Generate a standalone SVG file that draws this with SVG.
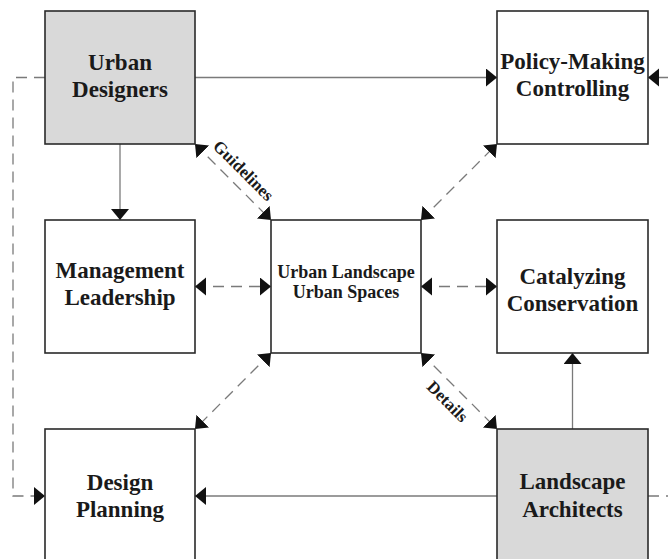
<svg xmlns="http://www.w3.org/2000/svg" width="668" height="559" viewBox="0 0 668 559">
  <defs>
    <marker id="arr" markerUnits="userSpaceOnUse" markerWidth="13" markerHeight="20" refX="11" refY="9" orient="auto-start-reverse" viewBox="0 0 13 20">
      <path d="M0,0 L11,9 L0,18 z" fill="#111"/>
    </marker>
    <style>
      .box { stroke: #2a2a2a; stroke-width: 1.6; fill: #ffffff; }
      .gray { fill: #d9d9d9; }
      .lbl { font-family: "Liberation Serif", "Times New Roman", serif; font-weight: bold; font-size: 23px; fill: #1a1a1a; text-anchor: middle; }
      .mid { font-size: 18px; }
      .edge { font-family: "Liberation Serif", "Times New Roman", serif; font-weight: bold; font-size: 17px; fill: #1a1a1a; text-anchor: middle; }
      .solid { stroke: #7a7a7a; stroke-width: 1.3; fill: none; }
      .dash { stroke: #7a7a7a; stroke-width: 1.3; fill: none; stroke-dasharray: 11 7; }
    </style>
  </defs>
  <rect x="0" y="0" width="668" height="559" fill="#ffffff"/>

  <g id="connectors">
    <line class="solid" x1="195" y1="77.5" x2="497" y2="77.5" marker-end="url(#arr)"/>
    <line class="dash" x1="668" y1="77.5" x2="648" y2="77.5" stroke-dasharray="3 6 20" marker-end="url(#arr)"/>
    <line class="solid" x1="120" y1="144" x2="120" y2="220" marker-end="url(#arr)"/>
    <path class="dash" d="M45,77.5 L13,77.5 L13,496 L45,496" stroke-dasharray="13 7" marker-end="url(#arr)"/>
    <line class="dash" x1="195" y1="144" x2="271" y2="220" marker-start="url(#arr)" marker-end="url(#arr)"/>
    <line class="dash" x1="421" y1="220" x2="497" y2="144" marker-start="url(#arr)" marker-end="url(#arr)"/>
    <line class="dash" x1="271" y1="353" x2="195" y2="429" marker-start="url(#arr)" marker-end="url(#arr)"/>
    <line class="dash" x1="421" y1="353" x2="497" y2="429" marker-start="url(#arr)" marker-end="url(#arr)"/>
    <line class="dash" x1="195" y1="286.5" x2="271" y2="286.5" marker-start="url(#arr)" marker-end="url(#arr)"/>
    <line class="dash" x1="421" y1="286.5" x2="497" y2="286.5" marker-start="url(#arr)" marker-end="url(#arr)"/>
    <line class="solid" x1="572.5" y1="429" x2="572.5" y2="353" marker-end="url(#arr)"/>
    <line class="solid" x1="497" y1="496" x2="195" y2="496" marker-end="url(#arr)"/>
    <line class="dash" x1="648" y1="496" x2="668" y2="496" stroke-dasharray="12 4 2 10"/>
    <text class="edge" transform="translate(243,171) rotate(45)" y="5">Guidelines</text>
    <text class="edge" transform="translate(447,402) rotate(45)" y="5">Details</text>
  </g>

  <g id="urban-designers">
    <rect class="box gray" x="45" y="11" width="150" height="133"/>
    <text class="lbl" x="120" y="70">Urban</text>
    <text class="lbl" x="120" y="97">Designers</text>
  </g>
  <g id="policy-making">
    <rect class="box" x="497" y="11" width="151" height="133"/>
    <text class="lbl" x="572.5" y="69">Policy-Making</text>
    <text class="lbl" x="572.5" y="96">Controlling</text>
  </g>
  <g id="management">
    <rect class="box" x="45" y="220" width="150" height="133"/>
    <text class="lbl" x="120" y="278">Management</text>
    <text class="lbl" x="120" y="305">Leadership</text>
  </g>
  <g id="urban-landscape">
    <rect class="box" x="271" y="220" width="150" height="133" stroke-width="2"/>
    <text class="lbl mid" x="346" y="278">Urban Landscape</text>
    <text class="lbl mid" x="346" y="298">Urban Spaces</text>
  </g>
  <g id="catalyzing">
    <rect class="box" x="497" y="220" width="151" height="133"/>
    <text class="lbl" x="572.5" y="284">Catalyzing</text>
    <text class="lbl" x="572.5" y="311">Conservation</text>
  </g>
  <g id="design-planning">
    <rect class="box" x="45" y="429" width="150" height="135"/>
    <text class="lbl" x="120" y="490">Design</text>
    <text class="lbl" x="120" y="517">Planning</text>
  </g>
  <g id="landscape-architects">
    <rect class="box gray" x="497" y="429" width="151" height="135"/>
    <text class="lbl" x="572.5" y="489">Landscape</text>
    <text class="lbl" x="572.5" y="517">Architects</text>
  </g>
</svg>
